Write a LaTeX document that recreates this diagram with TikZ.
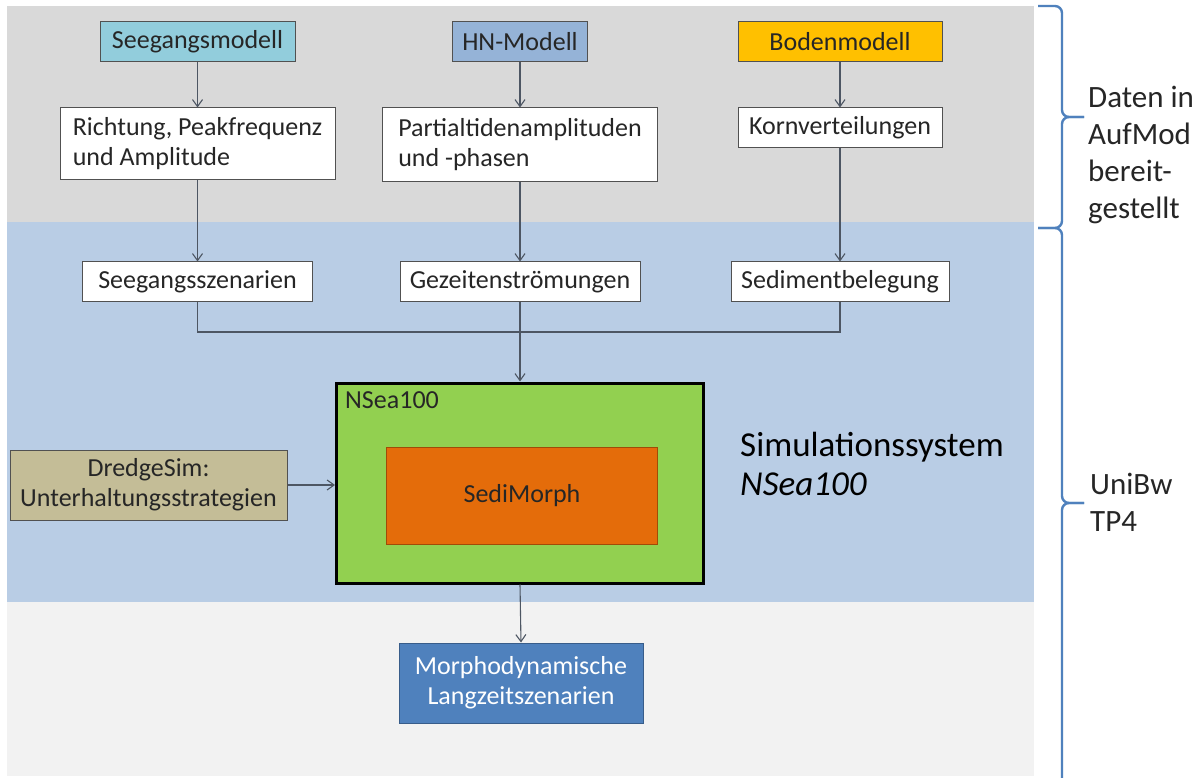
\documentclass[tikz,border=0pt]{standalone}
\usepackage{fontspec}
\setmainfont{Carlito}
\usetikzlibrary{arrows.meta,calc}
\definecolor{bandgray}{HTML}{D9D9D9}
\definecolor{bandblue}{HTML}{B9CDE5}
\definecolor{bandlight}{HTML}{F2F2F2}
\definecolor{cseeg}{HTML}{92CDDC}
\definecolor{chn}{HTML}{95B3D7}
\definecolor{cboden}{HTML}{FFC000}
\definecolor{cdredge}{HTML}{C4BD97}
\definecolor{cgreen}{HTML}{92D050}
\definecolor{corange}{HTML}{E46C0A}
\definecolor{cmorph}{HTML}{4F81BD}
\definecolor{cmorphb}{HTML}{385D8A}
\definecolor{cbrace}{HTML}{4F81BD}
\definecolor{cline}{HTML}{4D5663}
\definecolor{ctext}{HTML}{262626}
\tikzset{
  box/.style={draw=ctext!80, line width=1pt, inner sep=0pt, align=center,
    font=\fontsize{26}{30}\selectfont, text=ctext},
  arr/.style={draw=cline, line width=1.1pt, -{Straight Barb[length=7pt,width=10pt,line width=1.1pt]}},
  conn/.style={draw=cline, line width=1.1pt},
  brace/.style={draw=cbrace, line width=2.4pt, rounded corners=7pt},
  side/.style={align=left, anchor=west, font=\fontsize{31}{37}\selectfont, text=ctext, inner sep=0pt},
}
\begin{document}
\begin{tikzpicture}[x=1pt,y=-1pt]
\useasboundingbox (0,0) rectangle (1203,778);
\fill[white] (0,0) rectangle (1203,778);
% bands
\fill[bandgray] (7,6) rectangle (1034,222);
\fill[bandblue] (7,222) rectangle (1034,602);
\fill[bandlight] (7,602) rectangle (1034,776);
% top row
\node[box, fill=cseeg, minimum width=195pt, minimum height=40pt] (seeg) at (197.5,42) {Seegangsmodell};
\node[box, fill=chn, minimum width=135pt, minimum height=40pt] (hn) at (520,42) {HN-Modell};
\node[box, fill=cboden, minimum width=204pt, minimum height=40pt] (boden) at (840,42) {Bodenmodell};
% second row
\node[box, fill=white, minimum width=275pt, minimum height=72pt, align=left] (richt) at (197.5,144) {Richtung, Peakfrequenz\\und Amplitude};
\node[box, fill=white, minimum width=275pt, minimum height=74pt, align=left] (part) at (520,145) {Partialtidenamplituden\\und -phasen};
\node[box, fill=white, minimum width=204pt, minimum height=40pt] (korn) at (840,128) {Kornverteilungen};
% third row
\node[box, fill=white, minimum width=230pt, minimum height=40pt] (seegsz) at (197.5,282) {Seegangsszenarien};
\node[box, fill=white, minimum width=240pt, minimum height=40pt] (gez) at (520,282) {Gezeitenströmungen};
\node[box, fill=white, minimum width=218pt, minimum height=40pt] (sed) at (840,282) {Sedimentbelegung};
\coordinate (j) at (520,332);
% NSea100
\node[draw=black, line width=3pt, fill=cgreen, minimum width=367pt, minimum height=200pt, inner sep=0pt] (nsea) at (520,483) {};
\node[anchor=north west, inner sep=0pt, font=\fontsize{26}{30}\selectfont, text=ctext] (nsealbl) at ($(nsea.north west)+(10,10)$) {NSea100};
\node[box, draw=corange!70!black, fill=corange, minimum width=271pt, minimum height=97pt] (sedi) at (522,496) {SediMorph};
% DredgeSim
\node[box, fill=cdredge, minimum width=277pt, minimum height=70pt] (dredge) at (148.5,485) {DredgeSim:\\Unterhaltungsstrategien};
% Simulationssystem label
\node[anchor=west, align=left, inner sep=0pt, font=\fontsize{35}{39}\selectfont, text=black] (simlbl) at (740,464) {Simulationssystem\\\textit{NSea100}};
% Morpho
\node[box, draw=cmorphb, fill=cmorph, text=white, minimum width=244pt, minimum height=80pt] (morph) at (521,683) {Morphodynamische\\Langzeitszenarien};
% connectors
\draw[arr] (seeg) -- (richt);
\draw[arr] (hn) -- (part);
\draw[arr] (boden) -- (korn);
\draw[arr] (richt) -- (seegsz);
\draw[arr] (part) -- (gez);
\draw[arr] (korn) -- (sed);
\draw[conn] (seegsz.south) |- (sed.south |- j) -- (sed.south);
\draw[arr] (gez.south) -- (nsea.north);
\draw[arr] (dredge.east) -- (dredge.east -| nsea.west);
\draw[arr] (nsea.south) -- (morph.north);
% braces
\draw[brace] (1038,6) -- (1062,6) -- (1062,117) -- (1084,117);
\draw[brace] (1084,117) -- (1062,117) -- (1062,228) -- (1038,228);
\draw[brace] (1038,228) -- (1062,228) -- (1062,503) -- (1084,503);
\draw[brace] (1084,503) -- (1062,503) -- (1062,800) -- (1038,800);
% side labels
\node[side] (daten) at (1088,155) {Daten in\\AufMod\\bereit-\\gestellt};
\node[side] (unibw) at (1090,502) {UniBw\\TP4};
\end{tikzpicture}
\end{document}
